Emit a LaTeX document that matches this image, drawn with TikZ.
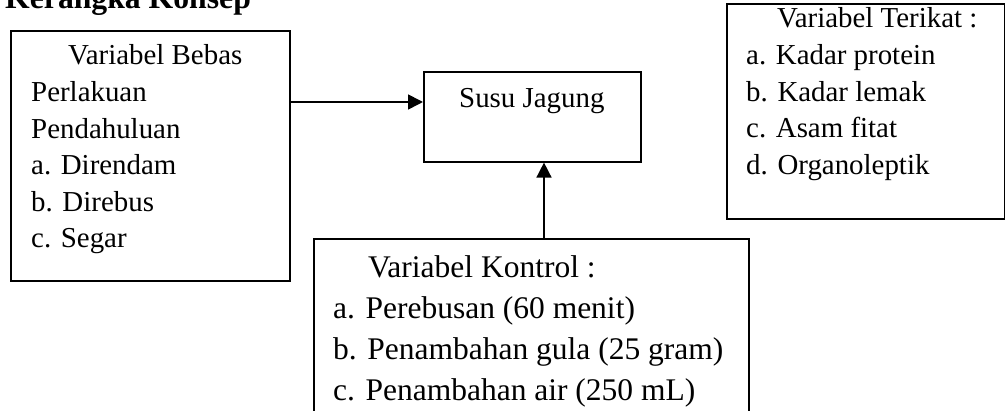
\documentclass[tikz,border=0pt]{standalone}
\usepackage{fontspec}
\setmainfont{Liberation Serif}
\usetikzlibrary{arrows.meta}
\newcommand{\lines}[1]{\begin{tabular}[t]{@{}l@{}}#1\end{tabular}}
\tikzset{
  box/.style={draw, line width=1.6pt, inner sep=0pt, anchor=north west},
  txt/.style={anchor=base west, inner sep=0pt, font=\fontsize{28.9}{36.6}\selectfont},
  bigtxt/.style={txt, font=\fontsize{31.5}{40.7}\selectfont},
  conn/.style={line width=1.6pt, -{Triangle[length=15pt,width=15pt]}}
}
\begin{document}
\begin{tikzpicture}[x=1pt,y=-1pt]
\useasboundingbox (0,0) rectangle (1005,411);
% title
\node[anchor=base west, inner sep=0pt, font=\fontsize{31.7}{36}\selectfont\bfseries] (title) at (5,9) {Kerangka Konsep};
% boxes
\node[box, minimum width=279pt, minimum height=250pt] (bebas) at (10,30) {};
\node[box, minimum width=217pt, minimum height=90pt] (susu) at (423,71) {};
\node[box, minimum width=278pt, minimum height=215pt] (terikat) at (726,3) {};
\node[box, minimum width=435pt, minimum height=200pt] (kontrol) at (313,238) {};
% texts
\node[txt] (tbebas) at (31,65) {\lines{\hspace{37pt}Variabel Bebas\\Perlakuan\\Pendahuluan\\a. Direndam\\b. Direbus\\c. Segar}};
\node[txt] (tsusu) at (459,108) {Susu Jagung};
\node[txt] (tterikat) at (746,28) {\lines{\hspace{31pt}Variabel Terikat :\\a. Kadar protein\\b. Kadar lemak\\c. Asam fitat\\d. Organoleptik}};
\node[bigtxt] (tkontrol) at (333,278) {\lines{\hspace{35pt}Variabel Kontrol :\\a. Perebusan (60 menit)\\b. Penambahan gula (25 gram)\\c. Penambahan air (250 mL)}};
% connectors
\draw[conn] (bebas.east |- 0,102) -- (susu.west |- 0,102);
\draw[conn] (kontrol.north -| 544,0) -- (susu.south -| 544,0);
\end{tikzpicture}
\end{document}
